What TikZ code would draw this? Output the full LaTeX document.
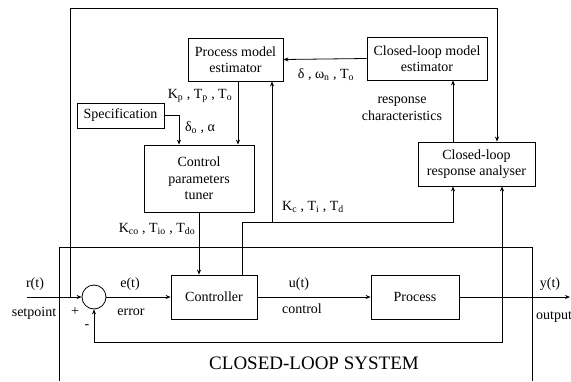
\documentclass[tikz,border=0pt]{standalone}
\usepackage{fontspec}
\setmainfont{Liberation Serif}
\usetikzlibrary{arrows.meta,calc}
\begin{document}
\begin{tikzpicture}[x=1pt,y=-1pt,
  every node/.style={font=\fontsize{14}{16.5}\selectfont},
  blk/.style={draw,line width=0.8pt,align=center,inner sep=0pt},
  lbl/.style={inner sep=0pt,align=center},
  conn/.style={line width=0.8pt},
  arr/.style={conn,-{Stealth[length=5pt,width=4pt]}}]
\fill[white] (0,0) rectangle (571,381);
\useasboundingbox (0,0) rectangle (571,381);
% blocks
\node[blk,minimum width=95,minimum height=43] (pme) at (235.5,59.5) {Process model\\estimator};
\node[blk,minimum width=120,minimum height=43] (clme) at (427,58.5) {Closed-loop model\\estimator};
\node[blk,minimum width=87,minimum height=25] (spec) at (120.5,115.5) {Specification};
\node[blk,minimum width=110,minimum height=67] (tuner) at (199,178.5) {Control\\parameters\\tuner};
\node[blk,minimum width=117,minimum height=44] (cra) at (476.5,164) {Closed-loop\\response analyser};
\node[blk,minimum width=86,minimum height=44] (ctrl) at (214,297) {Controller};
\node[blk,minimum width=88,minimum height=44] (proc) at (415,297) {Process};
\node[draw,line width=0.8pt,circle,minimum size=24,inner sep=0pt] (sum) at (94,297) {};
% coordinates
\coordinate (in) at (27,297);
\coordinate (tl) at (70,297);
\coordinate (tc) at (70,8);
\coordinate (tr) at (497,8);
\coordinate (out) at (570,297);
\coordinate (fb) at (502,297);
\coordinate (fbb) at (502,342);
\coordinate (j1) at (272,222);
\coordinate (j2) at (453,222);
% closed-loop system frame
\draw[conn] (59,381) -- (59,247) -- (532,247) -- (532,381);
% connectors
\draw[arr] (in) -- (sum.west);
\draw[arr] (tl) -- (tc) -- (tr) -- (tr |- cra.north);
\draw[arr] (sum.east) -- (ctrl.west);
\draw[arr] (ctrl.east) -- (proc.west);
\draw[arr] (proc.east) -- (out);
\draw[arr] (fb) -- (fbb) -| (sum.south);
\draw[arr] (fb) -- (fb |- cra.south);
\draw[arr] ([xshift=28]ctrl.north) |- (j2) -- (j2 |- cra.south);
\draw[arr] (j1) -- (j1 |- pme.south);
\draw[arr] (tuner.south) -- (tuner.south |- ctrl.north);
\draw[arr] ([xshift=2.5]pme.south) -- ([xshift=2.5]pme.south |- tuner.north);
\draw[arr] (spec.east) -| ([xshift=-20]tuner.north);
\draw[arr] ([xshift=-23.5]cra.north) -- ([xshift=-23.5]cra.north |- clme.south);
\draw[arr] (clme.west) -- (pme.east);
% labels
\node[lbl] (l1) at (200,96) {K\textsubscript{p} , T\textsubscript{p} , T\textsubscript{o}};
\node[lbl] (l2) at (200,128) {δ\textsubscript{o} , α};
\node[lbl] (l3) at (326,75) {δ , ω\textsubscript{n} , T\textsubscript{o}};
\node[lbl] (l4) at (402,109) {response\\characteristics};
\node[lbl] (l5) at (157,229) {K\textsubscript{co} , T\textsubscript{io} , T\textsubscript{do}};
\node[lbl] (l6) at (313,207) {K\textsubscript{c} , T\textsubscript{i} , T\textsubscript{d}};
\node[lbl] (l7) at (35,284) {r(t)};
\node[lbl] (l8) at (34,313) {setpoint};
\node[lbl] (l9) at (75,312) {+};
\node[lbl] (l10) at (87,327) {-};
\node[lbl] (l11) at (130,284) {e(t)};
\node[lbl] (l12) at (131,312) {error};
\node[lbl] (l13) at (299,284) {u(t)};
\node[lbl] (l14) at (302,309) {control};
\node[lbl] (l15) at (550,284) {y(t)};
\node[lbl,anchor=west] (l16) at (536,317) {output};
\node[lbl,font=\fontsize{19}{22}\selectfont] (l17) at (314,363) {CLOSED-LOOP SYSTEM};
\end{tikzpicture}
\end{document}
